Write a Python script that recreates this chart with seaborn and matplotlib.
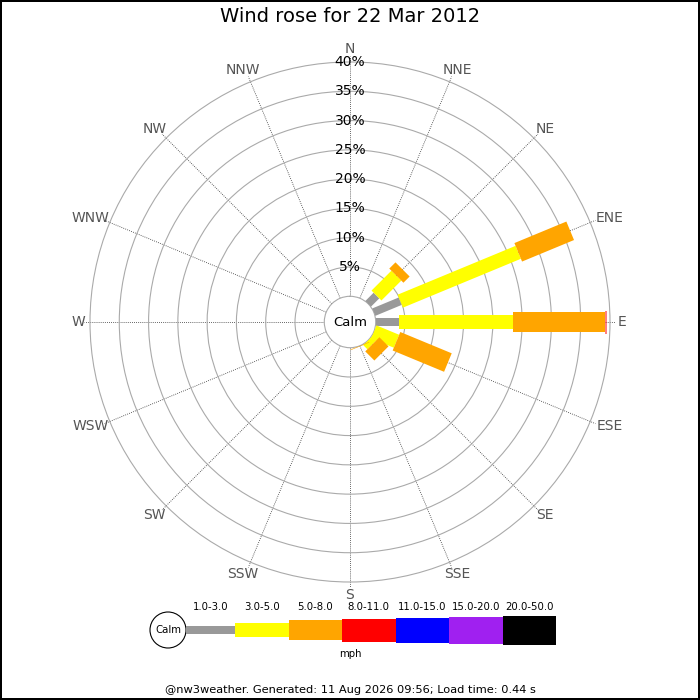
import numpy as np
import matplotlib
matplotlib.use('Agg')
import matplotlib.pyplot as plt
import seaborn as sns
from matplotlib.patches import Circle

directions = ['N', 'NNE', 'NE', 'ENE', 'E', 'ESE', 'SE', 'SSE',
              'S', 'SSW', 'SW', 'WSW', 'W', 'WNW', 'NW', 'NNW']
speed_labels = ['1.0-3.0', '3.0-5.0', '5.0-8.0', '8.0-11.0',
                '11.0-15.0', '15.0-20.0', '20.0-50.0']

# % of the day from each direction, one list per speed band (mph)
pct_1_3 = [0, 0, 2.0, 4.9, 3.9, 0, 0, 0, 0, 0, 0, 0, 0, 0, 0, 0]
pct_3_5 = [0, 0, 4.8, 21.8, 19.5, 4.2, 1.0, 0, 0, 0, 0, 0, 0, 0, 0, 0]
pct_5_8 = [0, 0, 1.5, 9.6, 15.7, 9.5, 2.2, 0.1, 0, 0, 0, 0, 0, 0, 0, 0]
pct_8_11 = [0, 0, 0, 0, 0.3, 0, 0, 0, 0, 0, 0, 0, 0, 0, 0, 0]
pct_11_15 = [0] * 16
pct_15_20 = [0] * 16
pct_20_50 = [0] * 16

ring_ticks = [5, 10, 15, 20, 25, 30, 35, 40]
title = 'Wind rose for 22 Mar 2012'
footer = '@nw3weather. Generated: 11 Aug 2026 09:56; Load time: 0.44 s'

sns.set_theme(style='white')
plt.rcParams['font.family'] = ['DejaVu Sans']

colors = ['#999999', '#ffff00', '#ffa500', '#ff0000', '#0000ff', '#a020f0', '#000000']
band_px = [8, 14, 20, 23, 25, 27, 29]  # bar thickness in pixels
bands = [pct_1_3, pct_3_5, pct_5_8, pct_8_11, pct_11_15, pct_15_20, pct_20_50]

fig = plt.figure(figsize=(7, 7), dpi=100)
ax = fig.add_axes([0.1202, 0.1602, 0.7596, 0.7596], projection='polar')
ax.set_theta_zero_location('N')
ax.set_theta_direction(-1)
ax.set_ylim(0, 41)
ax.set_rorigin(-4.39)

theta = np.deg2rad(np.arange(len(directions)) * 22.5)
ax.set_xticks(theta)
ax.set_xticklabels([])
ax.set_yticks(ring_ticks)
ax.set_yticklabels([])
ax.tick_params(length=0)
ax.yaxis.grid(True, color='#aaaaaa', lw=0.8, ls='-')
ax.xaxis.grid(True, color='#333333', lw=0.6, ls=(0, (1, 1.5)))
for sp in ax.spines.values():
    sp.set_visible(False)
# the inner spine is the calm circle; polar draw() turns it back on
ax.spines['inner'].set_color('#aaaaaa')
ax.spines['inner'].set_linewidth(0.8)
ax.patch.set_visible(False)

start = np.zeros(len(directions))
for vals, col, w in zip(bands, colors, band_px):
    vals = np.array(vals, dtype=float)
    for th, r0, v in zip(theta, start, vals):
        if v > 0:
            ax.plot([th, th], [r0, r0 + v], color=col, lw=w * 0.72,
                    solid_capstyle='butt', zorder=3)
    start = start + vals

for r in ring_ticks:
    ax.text(0, r, f'{r}%', ha='center', va='center', fontsize=10, color='black', zorder=5)
for th, name in zip(theta, directions):
    hw = 4.6 * len(name)
    ax.annotate(name, xy=(th, 41.2), xytext=(hw * np.sin(th), 6 * np.cos(th)),
                textcoords='offset pixels', ha='center', va='center',
                fontsize=10, color='#555555', annotation_clip=False)
ax.text(0.5, 0.5, 'Calm', transform=ax.transAxes, ha='center', va='center',
        fontsize=9.5, color='black')

fig.text(0.5, 1 - 17 / 700, title, ha='center', va='center', fontsize=14, color='black')

# speed legend
lax = fig.add_axes([140 / 700, 1 - 665 / 700, 430 / 700, 65 / 700])
lax.set_xlim(0, 430)
lax.set_ylim(0, 65)
lax.axis('off')
lax.add_patch(Circle((28, 35), 18, fc='white', ec='black', lw=0.8))
lax.text(28, 35, 'Calm', ha='center', va='center', fontsize=7.3, color='black')
lefts = [46] + [95 + 53.5 * k for k in range(6)]
widths = [49] + [53.5] * 6
heights = np.array(band_px)
lax.bar(lefts, heights, width=widths, bottom=35 - heights / 2, align='edge',
        color=colors, linewidth=0)
for l, w, lab in zip(lefts, widths, speed_labels):
    lax.text(l + w / 2, 58, lab, ha='center', va='center', fontsize=7.3, color='black')
lax.text(210, 11, 'mph', ha='center', va='center', fontsize=7.3, color='black')

fig.text(0.5, 1 - 690 / 700, footer, ha='center', va='center', fontsize=8.2, color='black')

fig.patch.set_edgecolor('black')
fig.patch.set_linewidth(1.5)
fig.savefig('out.png', dpi=100, facecolor='white', edgecolor='black')
